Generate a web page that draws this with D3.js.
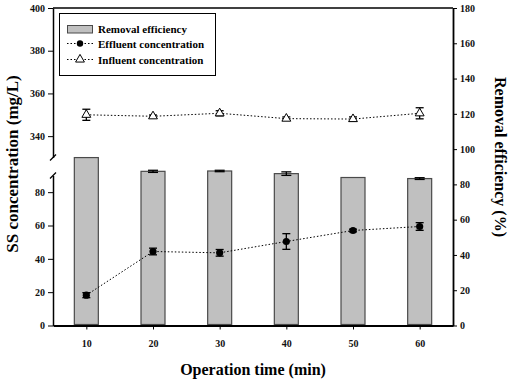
<!DOCTYPE html>
<html>
<head>
<meta charset="utf-8">
<script src="https://cdn.jsdelivr.net/npm/d3@7"></script>
</head>
<body style="margin:0; background:#fff">
<svg width="511" height="382"></svg>
<script>
var times = [10, 20, 30, 40, 50, 60];
var removal = [95.2, 87.4, 87.6, 86.1, 83.9, 83.3];
var removalErr = [0, 0.6, 0.4, 1.0, 0, 0.5];
var effluent = [18.2, 44.4, 43.6, 50.4, 57.0, 59.4];
var effluentErr = [1.5, 2.0, 2.0, 4.7, 0.8, 2.3];
var influent = [350.0, 349.3, 350.7, 348.2, 348.0, 350.7];
var influentErr = [2.6, 0.6, 1.2, 0.8, 1.0, 2.6];
var lowTicks = [0, 20, 40, 60, 80];
var highTicks = [340, 360, 380, 400];
var rightTicks = [0, 20, 40, 60, 80, 100, 120, 140, 160, 180];
var legendLabels = ["Removal efficiency", "Effluent concentration", "Influent concentration"];

var svg = d3.select("svg");
var leftX = 53, rightX = 453, topY = 8, bottomY = 325.5;
var breakTop = 157.5, breakBottom = 175.5;

var x = d3.scaleLinear().domain([5, 65]).range([leftX, rightX]);
var yLow = d3.scaleLinear().domain([0, 90]).range([bottomY, breakBottom]);
var yHigh = d3.scaleLinear().domain([330, 400]).range([breakTop, topY]);
var yR = d3.scaleLinear().domain([0, 180]).range([bottomY, topY]);

var data = times.map(function(t, i) {
  return {t: t, rem: removal[i], remE: removalErr[i], eff: effluent[i], effE: effluentErr[i],
          inf: influent[i], infE: influentErr[i]};
});

// bars
var bw = 24;
svg.selectAll(".bar").data(data).enter().append("rect")
  .attr("class", "bar")
  .attr("x", function(d) { return x(d.t) - bw / 2; })
  .attr("width", bw)
  .attr("y", function(d) { return yR(d.rem); })
  .attr("height", function(d) { return yR(0) - yR(d.rem) - 1; })
  .attr("fill", "#c0c0c0")
  .attr("stroke", "#4a4a4a")
  .attr("stroke-width", 1.2);

function errBar(sel, xf, ylo, yhi, cap) {
  sel.append("line").attr("x1", xf).attr("x2", xf).attr("y1", ylo).attr("y2", yhi)
    .attr("stroke", "#000").attr("stroke-width", 1.3);
  sel.append("line").attr("x1", function(d) { return xf(d) - cap; }).attr("x2", function(d) { return xf(d) + cap; })
    .attr("y1", ylo).attr("y2", ylo).attr("stroke", "#000").attr("stroke-width", 1.3);
  sel.append("line").attr("x1", function(d) { return xf(d) - cap; }).attr("x2", function(d) { return xf(d) + cap; })
    .attr("y1", yhi).attr("y2", yhi).attr("stroke", "#000").attr("stroke-width", 1.3);
}

var remErrG = svg.selectAll(".remerr").data(data.filter(function(d) { return d.remE > 0; })).enter().append("g");
errBar(remErrG, function(d) { return x(d.t); },
  function(d) { return yR(d.rem - d.remE); }, function(d) { return yR(d.rem + d.remE); }, 5);

// lines
var effLine = d3.line().x(function(d) { return x(d.t); }).y(function(d) { return yLow(d.eff); });
var infLine = d3.line().x(function(d) { return x(d.t); }).y(function(d) { return yHigh(d.inf); });

svg.append("path").attr("d", effLine(data)).attr("fill", "none")
  .attr("stroke", "#000").attr("stroke-width", 1).attr("stroke-dasharray", "1.5,2");
svg.append("path").attr("d", infLine(data)).attr("fill", "none")
  .attr("stroke", "#000").attr("stroke-width", 1).attr("stroke-dasharray", "1.5,2");

var effErrG = svg.selectAll(".efferr").data(data).enter().append("g");
errBar(effErrG, function(d) { return x(d.t); },
  function(d) { return yLow(d.eff - d.effE); }, function(d) { return yLow(d.eff + d.effE); }, 4);
var infErrG = svg.selectAll(".inferr").data(data).enter().append("g");
errBar(infErrG, function(d) { return x(d.t); },
  function(d) { return yHigh(d.inf - d.infE); }, function(d) { return yHigh(d.inf + d.infE); }, 4);

svg.selectAll(".effpt").data(data).enter().append("circle")
  .attr("cx", function(d) { return x(d.t); })
  .attr("cy", function(d) { return yLow(d.eff); })
  .attr("r", 3.6).attr("fill", "#000");

var tri = d3.symbol().type(d3.symbolTriangle).size(34);
svg.selectAll(".infpt").data(data).enter().append("path")
  .attr("d", tri)
  .attr("transform", function(d) { return "translate(" + x(d.t) + "," + yHigh(d.inf) + ")"; })
  .attr("fill", "#fff").attr("stroke", "#000").attr("stroke-width", 1);

// axes
svg.append("g").attr("class", "axis")
  .attr("transform", "translate(" + leftX + ",0)")
  .call(d3.axisLeft(yLow).tickValues(lowTicks).tickSize(5).tickSizeOuter(0))
  .call(function(g) { g.select(".domain").attr("stroke-width", 1.5); });
svg.append("g").attr("class", "axis")
  .attr("transform", "translate(" + leftX + ",0)")
  .call(d3.axisLeft(yHigh).tickValues(highTicks).tickSize(5).tickSizeOuter(0))
  .call(function(g) { g.select(".domain").attr("stroke-width", 1.5); });

// break marks
[breakTop, breakBottom].forEach(function(yy) {
  svg.append("line").attr("x1", leftX - 3).attr("x2", leftX + 3)
    .attr("y1", yy + 3).attr("y2", yy - 3)
    .attr("stroke", "#000").attr("stroke-width", 1.2);
});

svg.append("g").attr("class", "axis")
  .attr("transform", "translate(" + rightX + ",0)")
  .call(d3.axisRight(yR).tickValues(rightTicks).tickSize(4).tickSizeOuter(0))
  .call(function(g) { g.select(".domain").attr("stroke-width", 1.8); });

svg.append("g").attr("class", "axis")
  .attr("transform", "translate(0," + bottomY + ")")
  .call(d3.axisBottom(x).tickValues(times).tickSize(4).tickSizeOuter(0))
  .call(function(g) {
    g.select(".domain").attr("stroke-width", 2.2);
    g.selectAll(".tick text").attr("dy", "1.4em");
  });

// d3 axes put font-family on their <g>; drop it so the text's own style wins
svg.selectAll(".axis").attr("font-family", null).attr("font-size", null);
svg.selectAll(".axis text").style("font-size", "10px").attr("fill", "#111");

svg.append("line").attr("x1", leftX).attr("x2", rightX).attr("y1", topY).attr("y2", topY)
  .attr("stroke", "#000").attr("stroke-width", 1.5);

// axis titles
svg.append("text").attr("x", 253).attr("y", 375).attr("text-anchor", "middle")
  .style("font-size", "16px").text("Operation time (min)");
svg.append("text").attr("transform", "translate(18,164) rotate(-90)").attr("text-anchor", "middle")
  .style("font-size", "17px").text("SS concentration (mg/L)");
svg.append("text").attr("transform", "translate(495,157) rotate(90)").attr("text-anchor", "middle")
  .style("font-size", "16px").text("Removal efficiency (%)");

// legend
var lg = svg.append("g");
lg.append("rect").attr("x", 59.5).attr("y", 13.5).attr("width", 156).attr("height", 62)
  .attr("fill", "#fff").attr("stroke", "#000").attr("stroke-width", 1);
lg.append("rect").attr("x", 67.5).attr("y", 25.5).attr("width", 25).attr("height", 7.5)
  .attr("fill", "#c0c0c0").attr("stroke", "#4a4a4a");
[43.5, 59.5].forEach(function(yy) {
  lg.append("line").attr("x1", 67).attr("x2", 93).attr("y1", yy).attr("y2", yy)
    .attr("stroke", "#000").attr("stroke-dasharray", "1.5,2");
});
lg.append("circle").attr("cx", 80).attr("cy", 43.5).attr("r", 3.2).attr("fill", "#000");
lg.append("path").attr("d", tri).attr("transform", "translate(80,59.5)")
  .attr("fill", "#fff").attr("stroke", "#000");
lg.selectAll(".lt").data(legendLabels).enter().append("text")
  .attr("x", 98).attr("y", function(d, i) { return 29 + i * 15.5; })
  .attr("dy", "0.35em").style("font-size", "11px").text(function(d) { return d; });

svg.selectAll("text")
  .style("font-family", "'Liberation Serif'")
  .style("font-weight", "bold");
</script>
</body>
</html>
